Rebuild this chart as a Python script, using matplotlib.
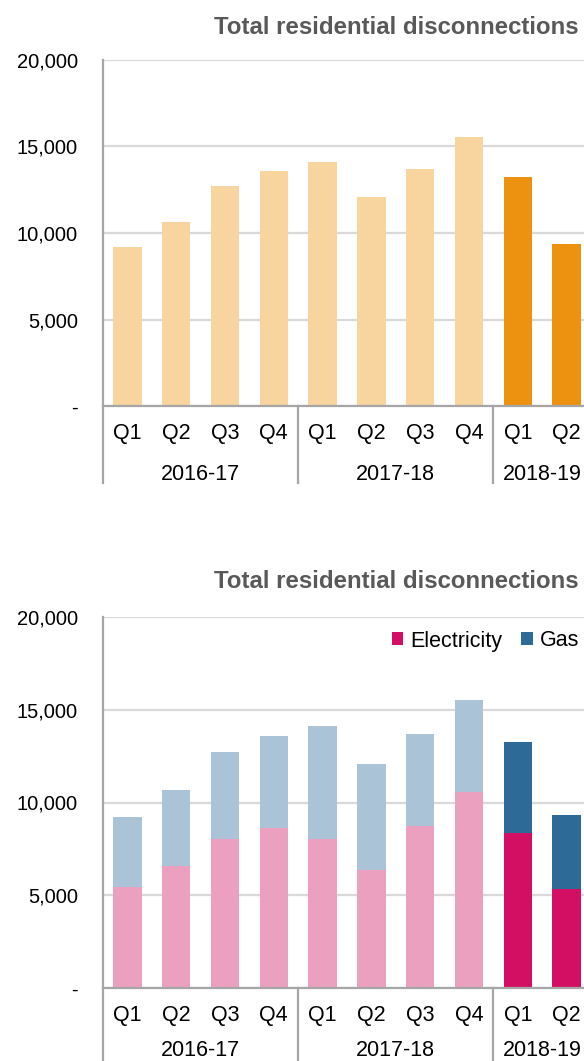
import matplotlib.pyplot as plt
from matplotlib.patches import Patch

plt.rcParams['font.family'] = ['Liberation Sans', 'DejaVu Sans']

# Datos
quarters = ['Q1', 'Q2', 'Q3', 'Q4', 'Q1', 'Q2', 'Q3', 'Q4', 'Q1', 'Q2']
years = ['2016-17', '2017-18', '2018-19']
year_of_bar = ['2016-17'] * 4 + ['2017-18'] * 4 + ['2018-19'] * 2
total = [9200, 10650, 12700, 13600, 14100, 12100, 13700, 15550, 13250, 9350]
electricity = [5450, 6600, 8050, 8600, 8050, 6350, 8750, 10570, 8340, 5350]
gas = [3750, 4050, 4650, 5000, 6050, 5750, 4950, 4980, 4910, 4000]
yticks = [0, 5000, 10000, 15000, 20000]
ytick_labels = ['-', '5,000', '10,000', '15,000', '20,000']

W, H = 584, 1061
fig = plt.figure(figsize=(W / 100, H / 100), dpi=100)

GRID = '#D9D9D9'
AXIS = '#A6A6A6'


def ejes(top_px, bottom_px):
    ax = fig.add_axes([103 / W, 1 - bottom_px / H, 488 / W, (bottom_px - top_px) / H])
    ax.set_xlim(-0.5, len(quarters) - 0.5)
    ax.set_ylim(0, 20000)
    ax.set_yticks(yticks)
    ax.set_yticklabels(ytick_labels, fontsize=14.5)
    ax.tick_params(axis='y', length=0, pad=18)
    ax.set_xticks([])
    ax.yaxis.grid(True, color=GRID, linewidth=1.6)
    ax.set_axisbelow(True)
    for s in ['top', 'right']:
        ax.spines[s].set_visible(False)
    for s in ['left', 'bottom']:
        ax.spines[s].set_color(AXIS)
        ax.spines[s].set_linewidth(1.6)
    ax.spines['bottom'].set_zorder(5)
    return ax


def etiquetas_x(ax, q_off, y_off, line_len):
    for i, q in enumerate(quarters):
        ax.annotate(q, xy=(i, 0), xycoords=('data', 'axes fraction'),
                    xytext=(0, -q_off), textcoords='offset pixels',
                    ha='center', va='center', fontsize=15.5)
    start = 0
    for y in years:
        n = year_of_bar.count(y)
        ax.annotate(y, xy=(start + (n - 1) / 2, 0), xycoords=('data', 'axes fraction'),
                    xytext=(0, -y_off), textcoords='offset pixels',
                    ha='center', va='center', fontsize=15.5)
        x = start - 0.5
        h = line_len / ax.bbox.height
        ax.plot([x, x], [0, -h], transform=ax.get_xaxis_transform(),
                color=AXIS, linewidth=1.6, clip_on=False)
        start += n


# Grafico 1: total
ax1 = ejes(60, 406)
x = list(range(len(quarters)))
col1 = ['#EC9210' if y == '2018-19' else '#F8D49E' for y in year_of_bar]
ax1.bar(x, total, width=0.58, color=col1, zorder=3)
etiquetas_x(ax1, 28, 68, 77)
fig.text(579 / W, 1 - 27 / H, 'Total residential disconnections', ha='right', va='center',
         fontsize=17.3, fontweight='bold', color='#595959')

# Grafico 2: electricidad y gas
ax2 = ejes(617, 988)
col_e = ['#D20F62' if y == '2018-19' else '#EBA0BF' for y in year_of_bar]
col_g = ['#2E6A97' if y == '2018-19' else '#AAC3D6' for y in year_of_bar]
ax2.bar(x, electricity, width=0.58, color=col_e, zorder=3)
ax2.bar(x, gas, width=0.58, bottom=electricity, color=col_g, zorder=3)
etiquetas_x(ax2, 27, 62, 90)
fig.text(579 / W, 1 - 581 / H, 'Total residential disconnections', ha='right', va='center',
         fontsize=17.3, fontweight='bold', color='#595959')

handles = [Patch(facecolor='#D20F62', label='Electricity'),
           Patch(facecolor='#2E6A97', label='Gas')]
fig.legend(handles=handles, loc='center right', bbox_to_anchor=(579 / W, 1 - 641 / H),
           ncol=2, frameon=False, fontsize=15.5, handlelength=0.55, handleheight=0.55,
           handletextpad=0.3, columnspacing=0.9, borderpad=0, borderaxespad=0)

fig.savefig('out.png', dpi=100)
